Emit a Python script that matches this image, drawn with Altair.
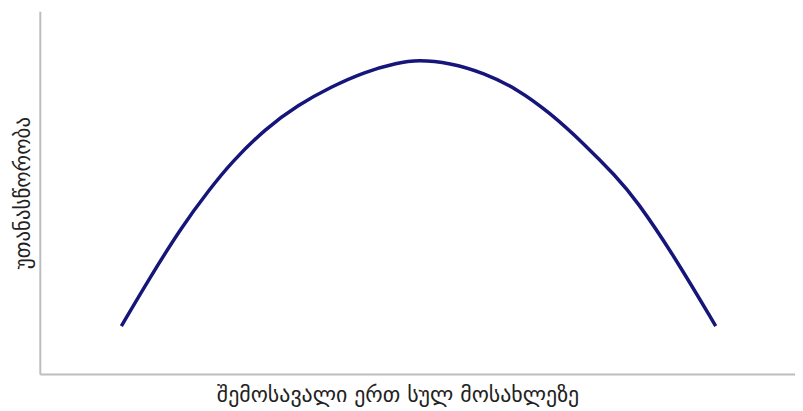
import altair as alt
import pandas as pd

# Income per capita (arbitrary index) and inequality (arbitrary index)
income = [10.8, 14.5, 18.8, 22.4, 25.4, 29.9, 34.2, 38.6, 43.0, 47.4,
          50.0, 54.3, 58.8, 63.2, 67.5, 72.0, 76.3, 79.0, 83.8, 89.5]
inequality = [13.2, 26.3, 40.6, 50.7, 58.4, 67.7, 74.2, 79.2, 83.3, 85.8,
              86.6, 85.8, 83.0, 78.6, 72.1, 63.6, 54.5, 47.9, 33.2, 13.2]

x_title = "შემოსავალი ერთ სულ მოსახლეზე"
y_title = "უთანასწორობა"

df = pd.DataFrame({"income": income, "inequality": inequality})

chart = alt.Chart(df).mark_line(
    color="#15157a", strokeWidth=3.5, interpolate="basis"
).encode(
    x=alt.X("income:Q", scale=alt.Scale(domain=[0, 100], nice=False),
            axis=alt.Axis(title=x_title, labels=False, ticks=False, grid=False,
                          domainColor="#bdbdbd", domainWidth=2,
                          titleFont="DejaVu Sans", titleFontSize=22,
                          titleFontWeight="normal", titleColor="#222222",
                          titlePadding=11, titleX=360)),
    y=alt.Y("inequality:Q", scale=alt.Scale(domain=[0, 100], nice=False),
            axis=alt.Axis(title=y_title, labels=False, ticks=False, grid=False,
                          domainColor="#bdbdbd", domainWidth=2,
                          titleFont="DejaVu Sans", titleFontSize=21,
                          titleFontWeight="normal", titleColor="#222222",
                          titlePadding=6)),
).properties(
    width=760, height=365,
    autosize=alt.AutoSizeParams(type="none"),
    padding={"left": 32, "top": 2, "right": 0, "bottom": 34},
).configure_view(stroke=None)

chart.save("out.html", embed_options={"renderer": "svg", "actions": False})
